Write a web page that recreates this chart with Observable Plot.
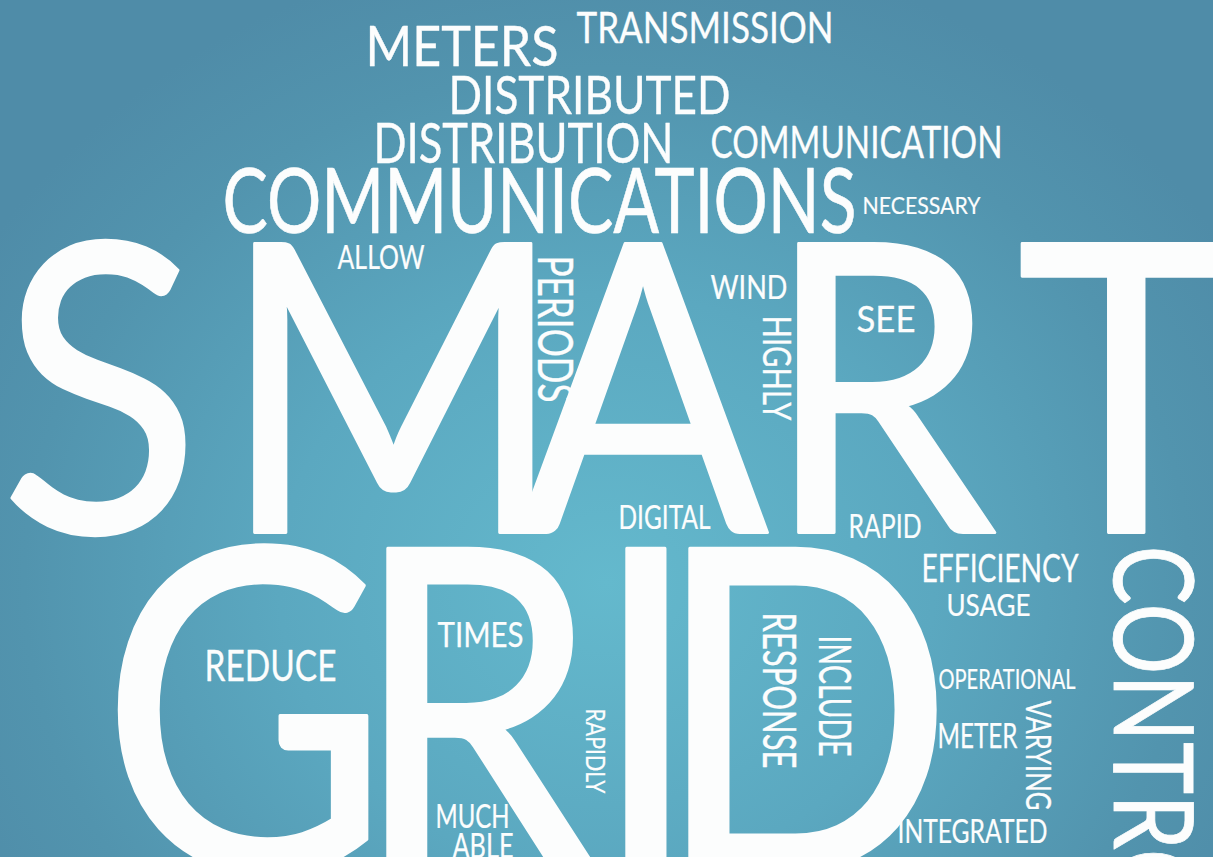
<!DOCTYPE html>
<html>
<head>
<meta charset="utf-8">
<script src="https://cdn.jsdelivr.net/npm/d3@7"></script>
<script src="https://cdn.jsdelivr.net/npm/@observablehq/plot@0.6"></script>
<style>
  html, body { margin: 0; padding: 0; overflow: hidden; background: #5a9fb8; }
  #chart svg { display: block; }
</style>
</head>
<body>
<div id="chart"></div>
<script>
// Word cloud content (words, their layout anchor, cap height, extent and orientation)
const word = ["METERS","TRANSMISSION","DISTRIBUTED","DISTRIBUTION","COMMUNICATION","COMMUNICATIONS",
  "NECESSARY","ALLOW","WIND","SEE","SMART","DIGITAL","RAPID","EFFICIENCY","USAGE","GRID","TIMES",
  "REDUCE","OPERATIONAL","METER","INTEGRATED","MUCH","ABLE",
  "PERIODS","HIGHLY","RESPONSE","INCLUDE","VARYING","RAPIDLY","CONTROL"];
const posX = [365,576,448,373,710,222, 862,337,710,856,12,618,848,921,946,115,437,
  204,938,937,897,435,452,
  537,762,762,818,1025,585,1113];
const posY = [65,42,113,162,157,232, 213,268,298,331,532,528,537,581,615,870,646,
  680,688,747,842,827,857,
  255,315,612,635,700,708,545];
const capHeight = [40,30,38,40,32,65, 17,23,23,26,289,23,23,28,22,322,25,
  30,20,25,24,24,25,
  34,28,33,32,25,19,79];
const span = [193,257,282,300,292,634, 118,87,77,59,1214,92,73,157,84,824,86,
  132,137,80,150,74,61,
  147,105,156,121,110,85,420];
const angle = [0,0,0,0,0,0, 0,0,0,0,0,0,0,0,0,0,0,
  0,0,0,0,0,0,
  90,90,90,90,90,90,90];
// letter pen starts (offsets from the word's anchor) and horizontal squeeze for the two giant words
const letterStarts = {
  SMART: [-13, 208, 505, 752, 1004],
  GRID: [-15, 236, 475, 538]
};
const squeeze = {SMART: 0.92, GRID: 0.88};

const W = 1213, H = 857;
const CAP = 0.7165; // Lato cap-height ratio
const idx = d3.range(word.length);

const plot = Plot.plot({
  width: W,
  height: H,
  margin: 0,
  x: {domain: [0, W], range: [0, W], axis: null},
  y: {domain: [0, H], range: [0, H], axis: null},
  style: {
    background: "radial-gradient(ellipse 60% 75% at 50% 68%, #64b9cd 0%, #5ba8c0 45%, #5294ae 80%, #4f8ca8 100%)",
    overflow: "hidden"
  },
  marks: [
    Plot.text(idx, {
      x: i => posX[i],
      y: i => posY[i],
      text: i => word[i],
      fontSize: i => capHeight[i] / CAP,
      rotate: i => angle[i],
      textAnchor: "start",
      lineAnchor: "bottom",
      fill: "#fcfdfd",
      stroke: "#fcfdfd",
      strokeWidth: i => capHeight[i] * 0.01,
      fontFamily: "Lato, 'Noto Sans', sans-serif",
      fontWeight: 400
    })
  ]
});

// fit each word's extent along its baseline; giant words get per-letter pen positions
d3.select(plot).selectAll('g[aria-label="text"] text').each(function(d, j) {
  const i = idx[j];
  const starts = letterStarts[word[i]];
  if (starts) {
    const s = squeeze[word[i]];
    this.setAttribute("x", starts.map(v => (v / s).toFixed(1)).join(" "));
    const t = this.getAttribute("transform") || "";
    this.setAttribute("transform", `${t} scale(${s},1)`);
  } else {
    this.setAttribute("textLength", span[i]);
    this.setAttribute("lengthAdjust", "spacingAndGlyphs");
  }
});

document.getElementById("chart").appendChild(plot);
</script>
</body>
</html>
